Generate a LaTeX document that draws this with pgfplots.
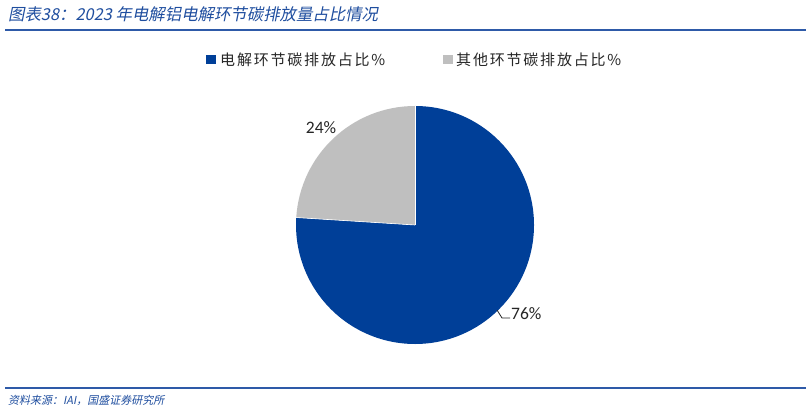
\documentclass[border=0pt]{standalone}
\usepackage{pgfplots}
\pgfplotsset{compat=1.18}
\usepackage{pgfplotstable}
\usepackage{fontspec}
\setmainfont{Noto Sans CJK SC}
\newfontfamily\cjkit[FakeSlant=0.2]{Noto Sans CJK SC}
\newfontfamily\legfont[LetterSpace=12]{Noto Sans CJK SC}
\newfontfamily\numfont{Carlito}

\definecolor{piblue}{HTML}{003F98}
\definecolor{pigray}{HTML}{BFBFBF}
\definecolor{ttblue}{HTML}{1F4E9F}
\definecolor{lnblue}{HTML}{2E5AA8}

% share of carbon emissions, 2023
\pgfplotstableread{
part value
electrolysis 76
other 24
}\sharetable

\pgfplotstablegetelem{0}{value}\of\sharetable
\let\va\pgfplotsretval
\pgfplotstablegetelem{1}{value}\of\sharetable
\let\vb\pgfplotsretval
\pgfmathsetmacro\angA{90-360*(\va/(\va+\vb))}

\begin{document}
\begin{tikzpicture}
\path[use as bounding box, fill=white] (0,0) rectangle (810pt,413pt);
\begin{axis}[
    scale only axis, width=810pt, height=413pt,
    xmin=0, xmax=810, ymin=0, ymax=413,
    hide axis, clip=false,
]
% pie: blue slice clockwise from 12 o'clock, grey the rest
\fill[piblue] (axis cs:415,188) -- ++(90:119pt)
    arc[start angle=90, end angle=\angA, radius=119pt] -- cycle;
\fill[pigray] (axis cs:415,188) -- ++(\angA:119pt)
    arc[start angle=\angA, end angle=-270, radius=119pt] -- cycle;
\draw[white, line width=0.6pt] (axis cs:415,188) -- ++(90:119pt);
\draw[white, line width=0.6pt] (axis cs:415,188) -- ++(\angA:119pt);

% data labels
\node[font=\numfont\fontsize{17.5pt}{19pt}\selectfont, text=black!85]
    at (axis cs:321,285) {\vb\%};
\draw[black!85, line width=0.8pt] (axis cs:497,103) -- (axis cs:502,95) -- (axis cs:510,95);
\node[anchor=west, inner sep=0pt, font=\numfont\fontsize{17.5pt}{19pt}\selectfont, text=black!85]
    at (axis cs:511,99) {\va\%};

% legend
\fill[piblue] (axis cs:206,349) rectangle (axis cs:216,358);
\node[anchor=west, inner sep=0pt, font=\legfont\fontsize{15pt}{17pt}\selectfont, text=black!85]
    at (axis cs:220,353.5) {电解环节碳排放占比\%};
\fill[pigray] (axis cs:443,349) rectangle (axis cs:453,358);
\node[anchor=west, inner sep=0pt, font=\legfont\fontsize{15pt}{17pt}\selectfont, text=black!85]
    at (axis cs:456,353.5) {其他环节碳排放占比\%};

% title, rules, source
\node[anchor=west, inner sep=0pt, font=\cjkit\fontsize{16.4pt}{19pt}\selectfont, text=ttblue]
    at (axis cs:8,399) {图表38：2023 年电解铝电解环节碳排放量占比情况};
\draw[lnblue, line width=1.3pt] (axis cs:5,383) -- (axis cs:806,383);
\draw[lnblue, line width=1.3pt] (axis cs:5,25) -- (axis cs:806,25);
\node[anchor=west, inner sep=0pt, font=\cjkit\fontsize{11pt}{13pt}\selectfont, text=ttblue]
    at (axis cs:8,13) {资料来源：IAI，国盛证券研究所};
\end{axis}
\end{tikzpicture}
\end{document}
